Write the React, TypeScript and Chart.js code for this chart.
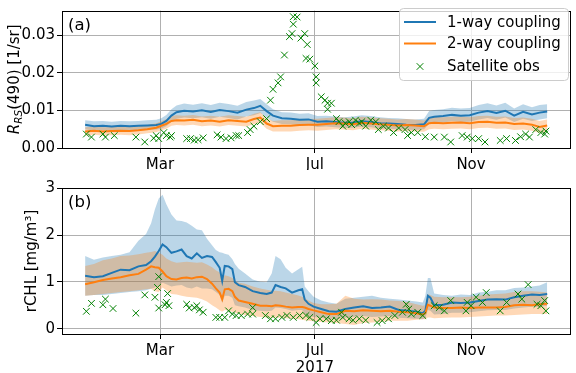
import { useEffect, useRef } from 'react';
import { Chart, registerables } from 'chart.js';

Chart.register(...registerables);

const FONT = "'DejaVu Sans', sans-serif";
const BLUE = '#1f77b4';
const ORANGE = '#ff7f0e';
const GREEN = '#008000';
const BLUE_FILL = 'rgba(31,119,180,0.3)';
const ORANGE_FILL = 'rgba(255,127,14,0.3)';

// x axis: day of year 2017 (0 = 1 Jan)
const X_MIN = -18.2;
const X_MAX = 382.2;
const MONTH_TICKS = [59, 181, 304];
const MONTH_LABELS = ['Mar', 'Jul', 'Nov'];
const YEAR_LABEL = '2017';
const LEGEND_LABELS = ['1-way coupling', '2-way coupling', 'Satellite obs'];

// ---------- panel (a): Rrs(490) ----------
const A_TICKS = [0, 0.01, 0.02, 0.03];
const A_DAYS = [0, 7, 14, 21, 28, 35, 42, 49, 56, 60, 64, 68, 72, 78, 85, 92, 99, 106, 113, 120, 127, 133, 138, 143, 148, 155, 162, 169, 176, 183, 190, 197, 204, 211, 218, 225, 232, 239, 246, 253, 260, 267, 271, 275, 282, 289, 296, 303, 310, 317, 324, 331, 338, 345, 352, 358, 364];
const A_BLUE = [0.0062, 0.0058, 0.0059, 0.0057, 0.0059, 0.0058, 0.0059, 0.0060, 0.0061, 0.0064, 0.0072, 0.0086, 0.0095, 0.0099, 0.0097, 0.0100, 0.0096, 0.0101, 0.0098, 0.0094, 0.0102, 0.0106, 0.0112, 0.0098, 0.0086, 0.0079, 0.0078, 0.0075, 0.0076, 0.0070, 0.0071, 0.0069, 0.0067, 0.0068, 0.0071, 0.0069, 0.0066, 0.0065, 0.0064, 0.0062, 0.0061, 0.0063, 0.0080, 0.0083, 0.0085, 0.0088, 0.0086, 0.0087, 0.0094, 0.0098, 0.0093, 0.0099, 0.0086, 0.0096, 0.0089, 0.0094, 0.0097];
const A_BLUE_UP = [0.0074, 0.0071, 0.0072, 0.0070, 0.0072, 0.0071, 0.0072, 0.0074, 0.0075, 0.0079, 0.0088, 0.0103, 0.0113, 0.0118, 0.0115, 0.0119, 0.0114, 0.0120, 0.0117, 0.0112, 0.0122, 0.0126, 0.0130, 0.0116, 0.0103, 0.0095, 0.0094, 0.0091, 0.0092, 0.0085, 0.0086, 0.0084, 0.0082, 0.0084, 0.0087, 0.0085, 0.0082, 0.0080, 0.0079, 0.0077, 0.0076, 0.0078, 0.0098, 0.0101, 0.0103, 0.0107, 0.0105, 0.0106, 0.0114, 0.0119, 0.0113, 0.0120, 0.0105, 0.0116, 0.0108, 0.0114, 0.0116];
const A_BLUE_LO = [0.0050, 0.0046, 0.0047, 0.0045, 0.0047, 0.0046, 0.0047, 0.0048, 0.0049, 0.0051, 0.0058, 0.0070, 0.0078, 0.0081, 0.0079, 0.0082, 0.0078, 0.0083, 0.0080, 0.0076, 0.0084, 0.0087, 0.0093, 0.0081, 0.0070, 0.0064, 0.0063, 0.0060, 0.0061, 0.0056, 0.0057, 0.0055, 0.0053, 0.0054, 0.0057, 0.0055, 0.0052, 0.0051, 0.0050, 0.0049, 0.0048, 0.0050, 0.0064, 0.0067, 0.0068, 0.0071, 0.0069, 0.0070, 0.0076, 0.0080, 0.0075, 0.0081, 0.0069, 0.0078, 0.0072, 0.0076, 0.0079];
const A_ORANGE = [0.0044, 0.0046, 0.0044, 0.0045, 0.0046, 0.0045, 0.0047, 0.0050, 0.0054, 0.0059, 0.0064, 0.0072, 0.0074, 0.0073, 0.0075, 0.0071, 0.0073, 0.0070, 0.0074, 0.0072, 0.0070, 0.0077, 0.0081, 0.0065, 0.0058, 0.0059, 0.0059, 0.0061, 0.0062, 0.0062, 0.0064, 0.0066, 0.0065, 0.0063, 0.0067, 0.0065, 0.0063, 0.0062, 0.0060, 0.0061, 0.0060, 0.0058, 0.0066, 0.0067, 0.0066, 0.0067, 0.0068, 0.0066, 0.0069, 0.0070, 0.0067, 0.0068, 0.0064, 0.0065, 0.0062, 0.0056, 0.0060];
const A_ORANGE_UP = [0.0055, 0.0057, 0.0055, 0.0056, 0.0057, 0.0056, 0.0058, 0.0061, 0.0066, 0.0071, 0.0077, 0.0085, 0.0087, 0.0086, 0.0088, 0.0084, 0.0086, 0.0083, 0.0087, 0.0085, 0.0083, 0.0091, 0.0095, 0.0079, 0.0072, 0.0074, 0.0074, 0.0076, 0.0077, 0.0078, 0.0080, 0.0082, 0.0081, 0.0079, 0.0083, 0.0081, 0.0079, 0.0078, 0.0076, 0.0077, 0.0076, 0.0073, 0.0082, 0.0083, 0.0082, 0.0083, 0.0084, 0.0082, 0.0085, 0.0086, 0.0083, 0.0084, 0.0080, 0.0081, 0.0078, 0.0072, 0.0076];
const A_ORANGE_LO = [0.0033, 0.0035, 0.0033, 0.0034, 0.0035, 0.0034, 0.0036, 0.0039, 0.0042, 0.0047, 0.0051, 0.0059, 0.0061, 0.0060, 0.0062, 0.0058, 0.0060, 0.0057, 0.0061, 0.0059, 0.0057, 0.0063, 0.0067, 0.0051, 0.0044, 0.0044, 0.0044, 0.0046, 0.0047, 0.0046, 0.0048, 0.0050, 0.0049, 0.0047, 0.0051, 0.0049, 0.0047, 0.0046, 0.0044, 0.0045, 0.0044, 0.0043, 0.0050, 0.0051, 0.0050, 0.0051, 0.0052, 0.0050, 0.0053, 0.0054, 0.0051, 0.0052, 0.0048, 0.0049, 0.0046, 0.0040, 0.0044];
const A_OBS_DAYS = [1, 5, 14, 16, 23, 40, 47, 54, 56, 58, 62, 64, 67, 68, 80, 83, 86, 89, 93, 104, 107, 111, 115, 119, 121, 128, 130, 133, 138, 143, 146, 148, 152, 154, 157, 161, 163, 164, 164, 167, 170, 173, 175, 174, 177, 181, 182, 182, 186, 189, 191, 194, 191, 198, 200, 203, 205, 208, 210, 213, 216, 218, 221, 225, 229, 231, 235, 239, 243, 247, 252, 254, 257, 262, 268, 275, 283, 288, 297, 301, 305, 310, 315, 327, 332, 339, 343, 347, 350, 355, 359, 362, 363];
const A_OBS = [0.0037, 0.0029, 0.0037, 0.0029, 0.0033, 0.0029, 0.0016, 0.0026, 0.0033, 0.0025, 0.0041, 0.0033, 0.0029, 0.0033, 0.0025, 0.0025, 0.0021, 0.0022, 0.0027, 0.0035, 0.0029, 0.0025, 0.0027, 0.0033, 0.0033, 0.0041, 0.0049, 0.0058, 0.0070, 0.0078, 0.0127, 0.0156, 0.0173, 0.0189, 0.0247, 0.0296, 0.0304, 0.0329, 0.0349, 0.0348, 0.0292, 0.0304, 0.0275, 0.0238, 0.0236, 0.0218, 0.0189, 0.0173, 0.0136, 0.0127, 0.0119, 0.0119, 0.0103, 0.0078, 0.0070, 0.0058, 0.0066, 0.0070, 0.0062, 0.0074, 0.0066, 0.0070, 0.0058, 0.0074, 0.0070, 0.0049, 0.0058, 0.0053, 0.0041, 0.0053, 0.0049, 0.0033, 0.0041, 0.0041, 0.0030, 0.0029, 0.0029, 0.0016, 0.0033, 0.0029, 0.0025, 0.0025, 0.0016, 0.0020, 0.0025, 0.0020, 0.0030, 0.0037, 0.0029, 0.0049, 0.0041, 0.0037, 0.0045];

// ---------- panel (b): rCHL ----------
const B_TICKS = [0, 1, 2, 3];
const B_DAYS = [0, 7, 14, 21, 28, 35, 42, 48, 52, 55, 58, 61, 64, 68, 72, 76, 80, 84, 88, 92, 96, 100, 103, 106, 108, 110, 113, 116, 118, 121, 126, 132, 138, 143, 147, 150, 154, 158, 163, 168, 171, 173, 176, 180, 186, 192, 198, 205, 212, 219, 226, 233, 240, 247, 254, 261, 266, 268, 270, 272, 275, 282, 289, 296, 303, 310, 317, 324, 331, 338, 345, 352, 358, 364];
const B_BLUE = [1.13, 1.10, 1.12, 1.19, 1.26, 1.25, 1.33, 1.36, 1.44, 1.54, 1.66, 1.80, 1.74, 1.62, 1.65, 1.69, 1.55, 1.50, 1.61, 1.51, 1.55, 1.53, 1.42, 1.30, 1.02, 1.34, 1.33, 1.27, 0.99, 0.93, 0.89, 0.80, 0.76, 0.74, 0.77, 0.93, 0.89, 0.86, 0.77, 0.82, 0.84, 0.62, 0.53, 0.47, 0.42, 0.37, 0.36, 0.42, 0.45, 0.48, 0.44, 0.45, 0.47, 0.40, 0.38, 0.36, 0.33, 0.38, 0.70, 0.66, 0.50, 0.51, 0.56, 0.55, 0.56, 0.59, 0.62, 0.63, 0.62, 0.67, 0.70, 0.73, 0.72, 0.74];
const B_BLUE_UP = [1.55, 1.47, 1.52, 1.55, 1.58, 1.63, 1.88, 2.02, 2.25, 2.55, 2.78, 2.86, 2.66, 2.44, 2.31, 2.30, 2.27, 2.20, 2.12, 2.10, 1.92, 1.78, 1.68, 1.63, 1.62, 1.60, 1.58, 1.48, 1.38, 1.28, 1.18, 1.05, 1.00, 0.99, 1.18, 1.55, 1.48, 1.30, 1.18, 1.27, 1.32, 0.90, 0.80, 0.68, 0.60, 0.56, 0.53, 0.64, 0.66, 0.68, 0.70, 0.66, 0.64, 0.62, 0.60, 0.58, 0.56, 0.70, 1.08, 1.08, 0.75, 0.72, 0.70, 0.73, 0.72, 0.77, 0.79, 0.82, 0.82, 0.87, 0.88, 0.90, 0.92, 0.99];
const B_BLUE_LO = [0.70, 0.72, 0.72, 0.74, 0.76, 0.78, 0.80, 0.82, 0.85, 0.88, 0.92, 0.98, 0.95, 0.90, 0.92, 0.93, 0.88, 0.86, 0.90, 0.86, 0.86, 0.84, 0.78, 0.72, 0.55, 0.70, 0.70, 0.66, 0.50, 0.48, 0.45, 0.40, 0.38, 0.37, 0.38, 0.45, 0.44, 0.42, 0.38, 0.40, 0.40, 0.32, 0.28, 0.25, 0.23, 0.20, 0.20, 0.23, 0.25, 0.27, 0.25, 0.26, 0.27, 0.23, 0.22, 0.21, 0.20, 0.22, 0.40, 0.38, 0.30, 0.31, 0.34, 0.34, 0.35, 0.37, 0.39, 0.40, 0.40, 0.43, 0.45, 0.47, 0.47, 0.49];
const B_ORANGE = [0.95, 0.99, 1.04, 1.07, 1.10, 1.14, 1.17, 1.26, 1.33, 1.31, 1.30, 1.22, 1.12, 1.06, 1.05, 1.08, 1.09, 1.07, 1.10, 1.11, 1.06, 0.96, 0.86, 0.77, 0.63, 0.84, 0.85, 0.80, 0.68, 0.60, 0.57, 0.53, 0.49, 0.49, 0.48, 0.50, 0.49, 0.47, 0.45, 0.46, 0.46, 0.45, 0.42, 0.39, 0.35, 0.31, 0.31, 0.38, 0.37, 0.39, 0.38, 0.37, 0.38, 0.36, 0.35, 0.33, 0.30, 0.33, 0.51, 0.49, 0.45, 0.44, 0.44, 0.45, 0.44, 0.45, 0.45, 0.45, 0.46, 0.50, 0.51, 0.50, 0.52, 0.53];
const B_ORANGE_UP = [1.34, 1.38, 1.46, 1.50, 1.55, 1.56, 1.59, 1.62, 1.64, 1.66, 1.62, 1.58, 1.50, 1.44, 1.41, 1.42, 1.43, 1.42, 1.41, 1.42, 1.37, 1.31, 1.25, 1.20, 1.10, 1.14, 1.12, 1.08, 1.02, 0.98, 0.96, 0.90, 0.86, 0.83, 0.81, 0.81, 0.80, 0.77, 0.74, 0.71, 0.68, 0.65, 0.60, 0.55, 0.52, 0.52, 0.53, 0.70, 0.64, 0.62, 0.63, 0.62, 0.60, 0.59, 0.57, 0.52, 0.49, 0.50, 0.74, 0.72, 0.68, 0.67, 0.67, 0.67, 0.68, 0.70, 0.73, 0.74, 0.75, 0.78, 0.80, 0.80, 0.79, 0.77];
const B_ORANGE_LO = [0.70, 0.72, 0.74, 0.76, 0.78, 0.80, 0.82, 0.84, 0.85, 0.80, 0.78, 0.88, 0.82, 0.74, 0.73, 0.70, 0.68, 0.67, 0.66, 0.63, 0.58, 0.50, 0.45, 0.39, 0.36, 0.40, 0.38, 0.36, 0.34, 0.32, 0.29, 0.27, 0.25, 0.24, 0.23, 0.24, 0.23, 0.22, 0.21, 0.20, 0.19, 0.18, 0.17, 0.16, 0.14, 0.13, 0.12, 0.10, 0.08, 0.12, 0.13, 0.14, 0.17, 0.17, 0.17, 0.19, 0.20, 0.20, 0.24, 0.24, 0.22, 0.23, 0.24, 0.24, 0.25, 0.26, 0.27, 0.28, 0.28, 0.29, 0.30, 0.31, 0.31, 0.31];
const B_OBS_DAYS = [1, 5, 14, 16, 22, 40, 47, 55, 57, 58, 58, 63, 64, 66, 65, 80, 82, 86, 88, 90, 93, 103, 106, 110, 113, 116, 119, 123, 128, 132, 132, 142, 146, 150, 155, 159, 164, 169, 174, 177, 182, 185, 190, 194, 198, 202, 203, 208, 211, 216, 221, 230, 234, 239, 244, 250, 253, 255, 257, 262, 266, 275, 279, 283, 288, 301, 300, 304, 308, 313, 316, 327, 332, 341, 344, 349, 356, 359, 363, 362];
const B_OBS = [0.37, 0.54, 0.51, 0.63, 0.43, 0.33, 0.72, 0.67, 0.88, 1.11, 0.44, 0.51, 0.56, 0.49, 0.75, 0.52, 0.44, 0.45, 0.49, 0.40, 0.35, 0.24, 0.24, 0.24, 0.38, 0.31, 0.28, 0.28, 0.31, 0.45, 0.31, 0.28, 0.21, 0.21, 0.24, 0.28, 0.24, 0.28, 0.28, 0.24, 0.13, 0.21, 0.21, 0.17, 0.18, 0.35, 0.24, 0.21, 0.18, 0.21, 0.18, 0.13, 0.17, 0.21, 0.28, 0.35, 0.52, 0.42, 0.31, 0.35, 0.28, 0.49, 0.45, 0.38, 0.60, 0.56, 0.38, 0.49, 0.67, 0.56, 0.77, 0.38, 0.56, 0.74, 0.63, 0.94, 0.52, 0.49, 0.38, 0.60];

function pts(days: number[], vals: number[]) {
  return days.map((d, i) => ({ x: d, y: vals[i] }));
}

function datasets(days: number[], bu: number[], bl: number[], b: number[], ou: number[], ol: number[], o: number[], od: number[], ov: number[]) {
  const band = (data: any, color: string, fill: any, order: number) => ({
    data, fill, backgroundColor: color, borderColor: 'rgba(0,0,0,0)', borderWidth: 0, pointRadius: 0, order,
  });
  const line = (data: any, color: string, order: number, label: string) => ({
    label, data, fill: false, borderColor: color, borderWidth: 2, pointRadius: 0, order,
  });
  // higher order is drawn first: bands below, then lines, then observations on top
  return [
    band(pts(days, bu), BLUE_FILL, '+1', 9),
    band(pts(days, bl), 'rgba(0,0,0,0)', false, 9),
    line(pts(days, b), BLUE, 5, LEGEND_LABELS[0]),
    band(pts(days, ou), ORANGE_FILL, '+1', 8),
    band(pts(days, ol), 'rgba(0,0,0,0)', false, 8),
    line(pts(days, o), ORANGE, 4, LEGEND_LABELS[1]),
    {
      label: LEGEND_LABELS[2], data: pts(od, ov), showLine: false, fill: false,
      pointStyle: 'crossRot', pointRadius: 4.7, borderColor: GREEN, backgroundColor: GREEN,
      pointBorderWidth: 1, borderWidth: 1, order: 1,
    },
  ];
}

function drawFrame(ctx: CanvasRenderingContext2D, a: any) {
  ctx.save();
  ctx.strokeStyle = '#000';
  ctx.lineWidth = 1;
  ctx.strokeRect(Math.round(a.left) + 0.5, Math.round(a.top) + 0.5, Math.round(a.right - a.left), Math.round(a.bottom - a.top));
  ctx.restore();
}

function drawPanelLabel(ctx: CanvasRenderingContext2D, a: any, txt: string) {
  ctx.save();
  ctx.fillStyle = '#000';
  ctx.font = `16.5px ${FONT}`;
  ctx.textAlign = 'left';
  ctx.textBaseline = 'alphabetic';
  ctx.fillText(txt, a.left + 6, a.top + 19);
  ctx.restore();
}

function drawCross(ctx: CanvasRenderingContext2D, x: number, y: number, h: number) {
  ctx.beginPath();
  ctx.moveTo(x - h, y - h); ctx.lineTo(x + h, y + h);
  ctx.moveTo(x - h, y + h); ctx.lineTo(x + h, y - h);
  ctx.stroke();
}

function drawLegend(ctx: CanvasRenderingContext2D) {
  ctx.save();
  ctx.beginPath();
  (ctx as any).roundRect(399.5, 8.5, 169, 72, 4);
  ctx.fillStyle = 'rgba(255,255,255,0.8)';
  ctx.fill();
  ctx.strokeStyle = '#cccccc';
  ctx.lineWidth = 1;
  ctx.stroke();
  const rows = [22, 43.5, 66.5];
  ctx.lineWidth = 2;
  ctx.strokeStyle = BLUE;
  ctx.beginPath(); ctx.moveTo(404, rows[0]); ctx.lineTo(436, rows[0]); ctx.stroke();
  ctx.strokeStyle = ORANGE;
  ctx.beginPath(); ctx.moveTo(404, rows[1]); ctx.lineTo(436, rows[1]); ctx.stroke();
  ctx.strokeStyle = GREEN;
  ctx.lineWidth = 1;
  drawCross(ctx, 420, rows[2], 3.3);
  ctx.fillStyle = '#000';
  ctx.font = `15px ${FONT}`;
  ctx.textAlign = 'left';
  ctx.textBaseline = 'middle';
  LEGEND_LABELS.forEach((t, i) => ctx.fillText(t, 447, rows[i] + 1));
  ctx.restore();
}

function drawYLabelA(ctx: CanvasRenderingContext2D, a: any) {
  const parts = [
    { t: 'R', font: `italic 15px ${FONT}`, dy: 0 },
    { t: 'RS', font: `italic 10.5px ${FONT}`, dy: 3.2 },
    { t: '(490) [1/sr]', font: `15px ${FONT}`, dy: 0 },
  ];
  ctx.save();
  ctx.fillStyle = '#000';
  ctx.textBaseline = 'alphabetic';
  ctx.textAlign = 'left';
  let total = 0;
  const widths = parts.map((p) => { ctx.font = p.font; const w = ctx.measureText(p.t).width; total += w; return w; });
  ctx.translate(19, (a.top + a.bottom) / 2);
  ctx.rotate(-Math.PI / 2);
  let x = -total / 2;
  parts.forEach((p, i) => { ctx.font = p.font; ctx.fillText(p.t, x, p.dy); x += widths[i]; });
  ctx.restore();
}

function drawYLabelB(ctx: CanvasRenderingContext2D, a: any) {
  ctx.save();
  ctx.fillStyle = '#000';
  ctx.font = `15px ${FONT}`;
  ctx.textAlign = 'center';
  ctx.textBaseline = 'alphabetic';
  ctx.translate(36, (a.top + a.bottom) / 2);
  ctx.rotate(-Math.PI / 2);
  ctx.fillText('rCHL [mg/m³]', 0, 0);
  ctx.restore();
}

function makeConfig(panel: 'a' | 'b'): any {
  const isA = panel === 'a';
  const data = isA
    ? datasets(A_DAYS, A_BLUE_UP, A_BLUE_LO, A_BLUE, A_ORANGE_UP, A_ORANGE_LO, A_ORANGE, A_OBS_DAYS, A_OBS)
    : datasets(B_DAYS, B_BLUE_UP, B_BLUE_LO, B_BLUE, B_ORANGE_UP, B_ORANGE_LO, B_ORANGE, B_OBS_DAYS, B_OBS);
  const yTicks = isA ? A_TICKS : B_TICKS;
  const grid = { color: '#b0b0b0', lineWidth: 1, tickColor: '#000', tickLength: 5, drawTicks: true };
  const tickFont = { family: FONT, size: 15, lineHeight: 1.15 };
  return {
    type: 'line',
    data: { datasets: data },
    options: {
      animation: false,
      responsive: false,
      devicePixelRatio: 1,
      layout: { padding: { top: isA ? 1 : 18, right: 1, left: 0, bottom: 0 } },
      plugins: { legend: { display: false }, tooltip: { enabled: false } },
      scales: {
        x: {
          type: 'linear', min: X_MIN, max: X_MAX,
          afterBuildTicks: (s: any) => { s.ticks = MONTH_TICKS.map((v) => ({ value: v })); },
          afterFit: (s: any) => { s.height = isA ? 22 : 39; },
          ticks: {
            autoSkip: false, maxRotation: 0, color: '#000', font: tickFont, padding: 3,
            callback: (v: number) => {
              const i = MONTH_TICKS.indexOf(v);
              const lbl = MONTH_LABELS[i];
              return !isA && i === 1 ? [lbl, YEAR_LABEL] : lbl;
            },
          },
          grid, border: { display: false },
        },
        y: {
          type: 'linear', min: isA ? 0 : -0.115, max: isA ? 0.0365 : 3.005,
          afterBuildTicks: (s: any) => { s.ticks = yTicks.map((v) => ({ value: v })); },
          afterFit: (s: any) => { s.width = 62; },
          ticks: {
            color: '#000', font: tickFont, padding: 2,
            callback: (v: number) => (isA ? v.toFixed(2) : String(v)),
          },
          grid, border: { display: false },
        },
      },
    },
    plugins: [{
      id: 'panel' + panel,
      afterDraw(chart: any) {
        const { ctx, chartArea } = chart;
        drawFrame(ctx, chartArea);
        drawPanelLabel(ctx, chartArea, isA ? '(a)' : '(b)');
        if (isA) { drawYLabelA(ctx, chartArea); drawLegend(ctx); } else { drawYLabelB(ctx, chartArea); }
      },
    }],
  };
}

export default function App() {
  const topRef = useRef<HTMLCanvasElement>(null);
  const botRef = useRef<HTMLCanvasElement>(null);
  useEffect(() => {
    const c1 = new Chart(topRef.current as HTMLCanvasElement, makeConfig('a'));
    const c2 = new Chart(botRef.current as HTMLCanvasElement, makeConfig('b'));
    return () => { c1.destroy(); c2.destroy(); };
  }, []);
  return (
    <div style={{ position: 'fixed', left: 0, top: 0, width: 576, height: 373, background: '#fff' }}>
      <canvas ref={topRef} width={576} height={170} style={{ position: 'absolute', left: 0, top: 0, width: 576, height: 170 }} />
      <canvas ref={botRef} width={576} height={203} style={{ position: 'absolute', left: 0, top: 170, width: 576, height: 203 }} />
    </div>
  );
}
